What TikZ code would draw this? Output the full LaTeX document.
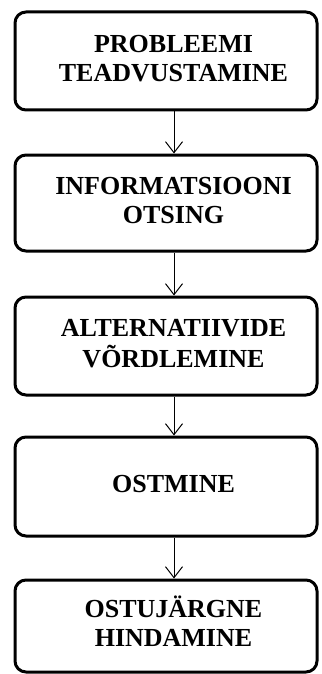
\documentclass[tikz,border=0pt]{standalone}
\usepackage{fontspec}
\setmainfont{Liberation Serif}
\usetikzlibrary{arrows.meta}

\tikzset{
    stepbox/.style={draw, line width=3pt, rounded corners=11pt,
        minimum width=302pt, inner sep=0pt,
        font=\fontsize{26}{29}\selectfont\bfseries},
    flow/.style={line width=1pt, -{Straight Barb[length=11pt,width=17pt,line width=1pt]}}
}
\newcommand{\steptext}[1]{\hspace*{15pt}\begin{tabular}{@{}c@{}}#1\end{tabular}}

\begin{document}
\begin{tikzpicture}[x=1pt,y=1pt]
    \useasboundingbox (0,0) rectangle (321,-674);

    \node[stepbox, minimum height=98pt] (teadvustamine) at (166,-61) {\steptext{PROBLEEMI\\TEADVUSTAMINE}};
    \node[stepbox, minimum height=96pt] (otsing) at (166,-203) {\steptext{INFORMATSIOONI\\OTSING}};
    \node[stepbox, minimum height=98pt] (vordlemine) at (166,-346) {\steptext{ALTERNATIIVIDE\\VÕRDLEMINE}};
    \node[stepbox, minimum height=99pt] (ostmine) at (166,-486.5) {\steptext{OSTMINE}};
    \node[stepbox, minimum height=92pt] (hindamine) at (166,-626) {\steptext{OSTUJÄRGNE\\HINDAMINE}};

    \draw[flow] ([xshift=8pt]teadvustamine.south) -- ([xshift=8pt]otsing.north);
    \draw[flow] ([xshift=8pt]otsing.south) -- ([xshift=8pt]vordlemine.north);
    \draw[flow] ([xshift=8pt]vordlemine.south) -- ([xshift=8pt]ostmine.north);
    \draw[flow] ([xshift=8pt]ostmine.south) -- ([xshift=8pt]hindamine.north);
\end{tikzpicture}
\end{document}
